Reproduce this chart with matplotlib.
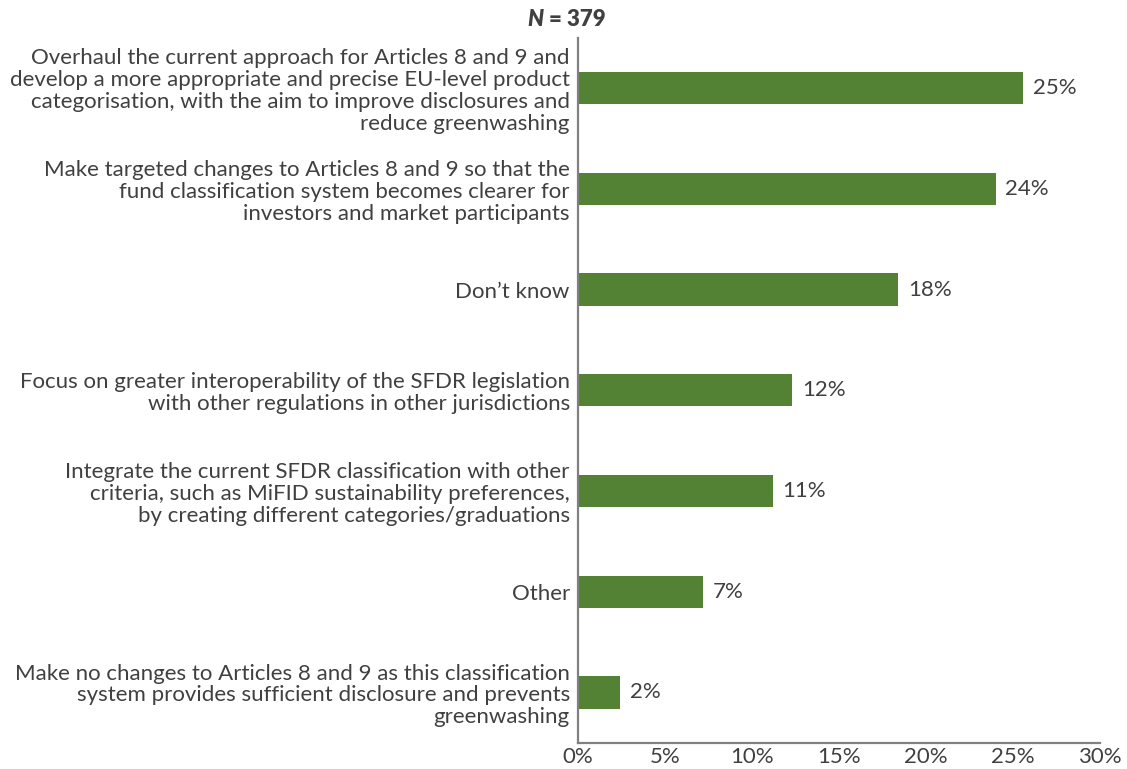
import matplotlib.pyplot as plt

# Данные
labels = [
    "Overhaul the current approach for Articles 8 and 9 and\ndevelop a more appropriate and precise EU-level product\ncategorisation, with the aim to improve disclosures and\nreduce greenwashing",
    "Make targeted changes to Articles 8 and 9 so that the\nfund classification system becomes clearer for\ninvestors and market participants",
    "Don\u2019t know",
    "Focus on greater interoperability of the SFDR legislation\nwith other regulations in other jurisdictions",
    "Integrate the current SFDR classification with other\ncriteria, such as MiFID sustainability preferences,\nby creating different categories/graduations",
    "Other",
    "Make no changes to Articles 8 and 9 as this classification\nsystem provides sufficient disclosure and prevents\ngreenwashing",
]
values = [25.6, 24.0, 18.4, 12.3, 11.2, 7.2, 2.4]
value_labels = ["25%", "24%", "18%", "12%", "11%", "7%", "2%"]
x_ticks = [0, 5, 10, 15, 20, 25, 30]

plt.rcParams['font.family'] = ['Lato', 'DejaVu Sans']
text_color = '#404040'
green = '#548235'
gray = '#808080'
fs = 16

fig = plt.figure(figsize=(11.27, 7.69), dpi=100)
ax = fig.add_axes([0.513, 0.034, 0.463, 0.917])

pos = list(range(len(values)))
ax.barh(pos, values, height=0.32, color=green)
ax.set_ylim(len(values) - 0.5, -0.5)
ax.set_xlim(0, 30)

ax.set_yticks(pos)
ax.set_yticklabels(labels, fontsize=fs, color=text_color, linespacing=1.12)
ax.set_xticks(x_ticks)
ax.set_xticklabels([f"{t}%" for t in x_ticks], fontsize=fs, color=text_color)
ax.tick_params(axis='both', length=0)
ax.tick_params(axis='y', pad=6)
ax.tick_params(axis='x', pad=3)

for s in ['top', 'right']:
    ax.spines[s].set_visible(False)
for s in ['left', 'bottom']:
    ax.spines[s].set_color(gray)
    ax.spines[s].set_linewidth(1.6)

# Подписи значений
for p, v, t in zip(pos, values, value_labels):
    ax.annotate(t, (v, p), xytext=(7, 0), textcoords='offset points',
                va='center', ha='left', fontsize=fs, color=text_color)

# Заголовок N = 379
fig.text(0.482, 0.974, "N", ha='right', va='center',
         fontsize=fs, fontweight='heavy', fontstyle='italic', color=text_color)
fig.text(0.487, 0.974, "= 379", ha='left', va='center',
         fontsize=fs, fontweight='heavy', color=text_color)

fig.savefig('out.png', dpi=100)
